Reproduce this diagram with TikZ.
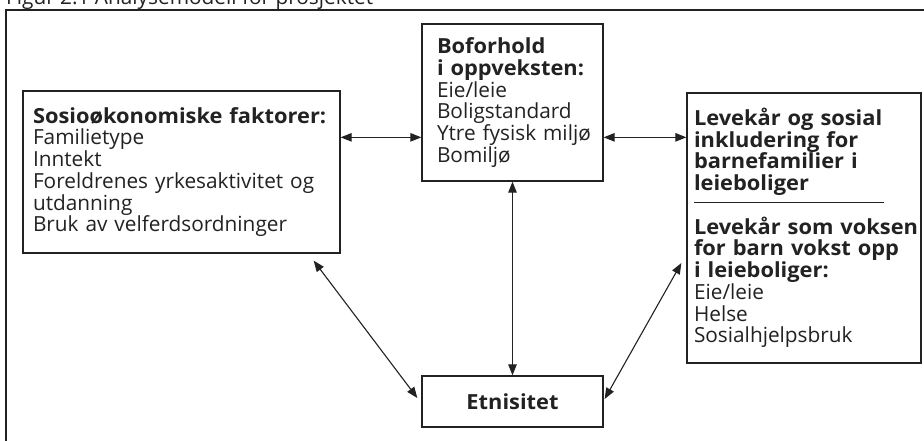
\documentclass[tikz,border=0pt]{standalone}
\usepackage{fontspec}
\setmainfont{Open Sans}[BoldFeatures={FakeStretch=1.05}]
\usetikzlibrary{arrows.meta}
\definecolor{ink}{HTML}{222222}
\tikzset{
  txtfont/.style={font=\fontsize{20.8}{21.75}\selectfont},
  box/.style={draw=ink, line width=1.3pt, rectangle, inner sep=0pt, align=left, txtfont, text=ink},
  link/.style={draw=ink, line width=1.1pt, {Triangle[length=11pt,width=8.5pt]}-{Triangle[length=11pt,width=8.5pt]}},
  frame/.style={draw=ink, line width=2.4pt},
}
\begin{document}
\begin{tikzpicture}[x=1pt,y=-1pt]
\useasboundingbox (0,0) rectangle (924,440);
\clip (0,0) rectangle (924,440);
\fill[white] (0,0) rectangle (924,440);
\node[anchor=base west, inner sep=0pt, text=ink, txtfont] (title) at (6,4.5) {Figur 2.1 Analysemodell for prosjektet};
\draw[frame] (6,470) |- (960,10);
\node[box, minimum width=317pt, minimum height=162pt, text width=297pt] (soc) at (181.5,172)
  {\mbox{\textbf{Sosioøkonomiske faktorer:}}\\ Familietype\\ Inntekt\\ \mbox{Foreldrenes yrkesaktivitet og}\\ utdanning\\ \mbox{Bruk av velferdsordninger}};
\node[box, minimum width=181pt, minimum height=157pt, text width=151pt] (mid) at (512.5,102.5)
  {\textbf{Boforhold}\\ \mbox{\textbf{i oppveksten:}}\\ Eie/leie\\ Boligstandard\\ \mbox{Ytre fysisk miljø}\\ Bomiljø};
\node[box, minimum width=234pt, minimum height=270pt, text width=220pt] (right) at (804,228)
  {\mbox{\textbf{Levekår og sosial}}\\ \mbox{\textbf{inkludering for}}\\ \mbox{\textbf{barnefamilier i}}\\ \textbf{leieboliger}\\ \rule[9pt]{190pt}{1.2pt}\\ \mbox{\textbf{Levekår som voksen}}\\ \mbox{\textbf{for barn vokst opp}}\\ \mbox{\textbf{i leieboliger:}}\\ Eie/leie\\ Helse\\ Sosialhjelpsbruk};
\node[box, align=center, minimum width=181pt, minimum height=51pt] (eth) at (512.5,401.5) {\textbf{Etnisitet}};
\draw[link] ([yshift=-47pt]soc.north east) -- ([yshift=-114pt]mid.north west);
\draw[link] ([yshift=-114pt]mid.north east) -- ([yshift=-45pt]right.north west);
\draw[link] (mid.south) -- (eth.north);
\draw[link] ([shift={(-27pt,-7pt)}]soc.south east) -- ([shift={(-4pt,3.5pt)}]eth.west);
\draw[link] ([shift={(-5pt,-35pt)}]right.west) -- ([shift={(1pt,2.5pt)}]eth.east);
\end{tikzpicture}
\end{document}
